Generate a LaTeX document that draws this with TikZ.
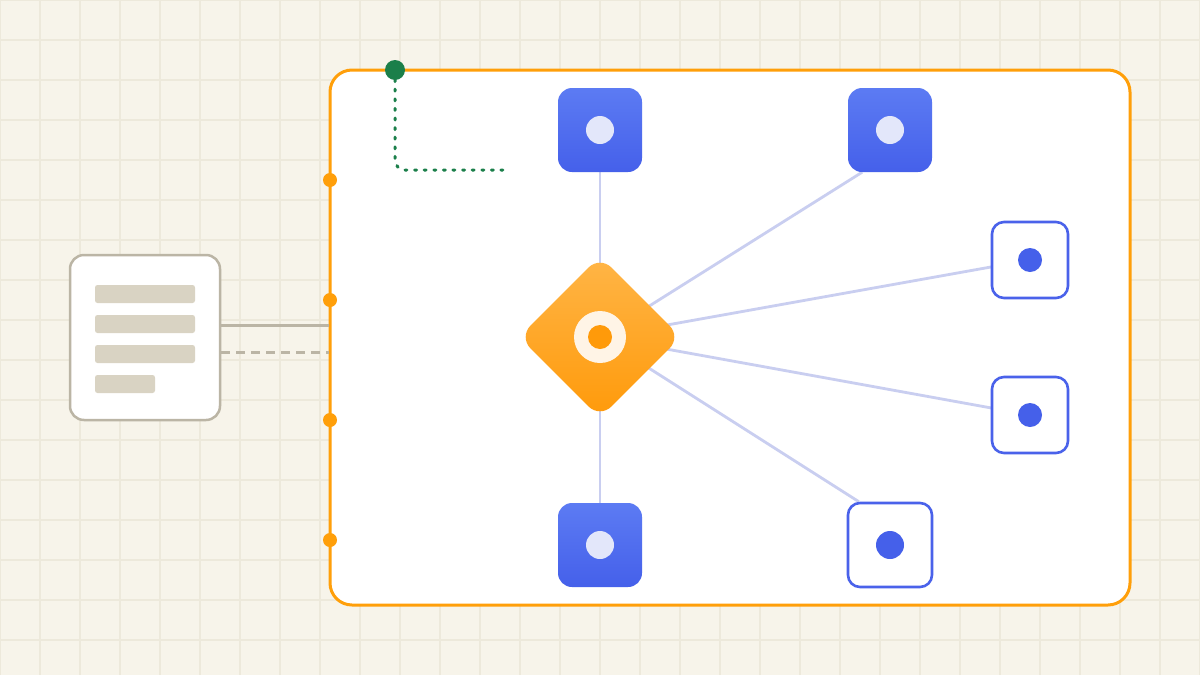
\documentclass[tikz,border=0pt]{standalone}
\usetikzlibrary{shapes.geometric,calc}
\definecolor{bgc}{HTML}{F7F4EA}
\definecolor{gridc}{HTML}{EDE9DB}
\definecolor{orng}{HTML}{FF9F0A}
\definecolor{grn}{HTML}{1B7F4A}
\definecolor{docst}{HTML}{BBB5A5}
\definecolor{bar}{HTML}{D9D3C3}
\definecolor{lav}{HTML}{C9CEF0}
\definecolor{blueA}{HTML}{5C7BF3}
\definecolor{blueB}{HTML}{4560EA}
\definecolor{blueline}{HTML}{4A62EA}
\definecolor{pale}{HTML}{E3E7FA}
\definecolor{diaA}{HTML}{FFB547}
\definecolor{diaB}{HTML}{FF9A0A}
\definecolor{ringc}{HTML}{FFF4E6}
\pgfdeclarelayer{bglayer}
\pgfdeclarelayer{edgelayer}
\pgfsetlayers{bglayer,edgelayer,main}
\tikzset{
  filledsq/.style={rectangle, rounded corners=14pt, minimum size=84pt, inner sep=0pt, top color=blueA, bottom color=blueB, draw=none},
  outsq/.style={rectangle, rounded corners=12pt, minimum size=#1, inner sep=0pt, fill=white, draw=blueline, line width=2.6pt},
  paledot/.style={circle, fill=pale, minimum size=28pt, inner sep=0pt},
  bluedot/.style={circle, fill=blueB, minimum size=#1, inner sep=0pt},
  edge/.style={draw=lav, line width=2.8pt},
  portdot/.style={circle, fill=orng, minimum size=14pt, inner sep=0pt},
  barbox/.style={fill=bar, rounded corners=2.5pt},
}
\begin{document}
\begin{tikzpicture}[x=1pt,y=-1pt]
\useasboundingbox (0,0) rectangle (1200,675);
\begin{pgfonlayer}{bglayer}
\fill[bgc] (0,0) rectangle (1200,675);
\foreach \gx in {0,40,...,1200} \draw[gridc, line width=1.2pt] (\gx,0) -- (\gx,675);
\foreach \gy in {0,40,...,680} \draw[gridc, line width=1.2pt] (0,\gy) -- (1200,\gy);
% container
\node[rectangle, rounded corners=22pt, minimum width=800pt, minimum height=535pt, inner sep=0pt, fill=white, draw=orng, line width=3pt] (cont) at (730,337.5) {};
\end{pgfonlayer}

% port dots
\foreach \py/\nm in {180/p1,300/p2,420/p3,540/p4}
  \node[portdot] (\nm) at (330,\py) {};

% document card
\node[rectangle, rounded corners=14pt, minimum width=150pt, minimum height=165pt, inner sep=0pt, fill=white, draw=docst, line width=2.5pt] (doc) at (145,337.5) {};
\fill[barbox] (95,285) rectangle (195,303);
\fill[barbox] (95,315) rectangle (195,333);
\fill[barbox] (95,345) rectangle (195,363);
\fill[barbox] (95,375) rectangle (155,393);
\draw[docst, line width=3pt] (doc.east |- 0,325) -- (cont.west |- 0,325);
\draw[docst, line width=3pt, dash pattern=on 9pt off 6pt] (doc.east |- 0,352) -- (cont.west |- 0,352);

% green marker and dotted path
\coordinate (gstart) at (395,70);
\coordinate (gend) at (503,170);
\draw[grn, line width=3pt, line cap=round, dash pattern=on 2pt off 7.6pt, rounded corners=10pt] (gstart) -- (gstart |- gend) -- (gend);
\node[circle, fill=grn, minimum size=20pt, inner sep=0pt] (gdot) at (gstart) {};

% central diamond
\node[diamond, aspect=1, minimum width=162pt, minimum height=162pt, inner sep=0pt, rounded corners=16pt, top color=diaA, bottom color=diaB, draw=none] (hub) at (600,337) {};
\node[circle, fill=ringc, minimum size=52pt, inner sep=0pt] (ring) at (hub) {};
\node[circle, fill=diaB, minimum size=24pt, inner sep=0pt] (core) at (hub) {};

% satellites
\node[filledsq] (n1) at (600,130) {};
\node[paledot] at (n1) {};
\node[filledsq] (n2) at (890,130) {};
\node[paledot] at (n2) {};
\node[filledsq] (n6) at (600,545) {};
\node[paledot] at (n6) {};
\node[outsq=76pt] (n3) at (1030,260) {};
\node[bluedot=24pt] at (n3) {};
\node[outsq=76pt] (n4) at (1030,415) {};
\node[bluedot=24pt] at (n4) {};
\node[outsq=84pt] (n5) at (890,545) {};
\node[bluedot=28pt] at (n5) {};

\begin{pgfonlayer}{edgelayer}
\draw[edge] (hub.center) -- (n1.center);
\draw[edge] (hub.center) -- ($(n2.south west)!0.17!(n2.south east)$);
\draw[edge] (hub.center) -- (n3.center);
\draw[edge] (hub.center) -- (n4.center);
\draw[edge] (hub.center) -- ($(n5.north west)!0.14!(n5.north east)$);
\draw[edge] (hub.center) -- (n6.center);
\end{pgfonlayer}
\end{tikzpicture}
\end{document}
